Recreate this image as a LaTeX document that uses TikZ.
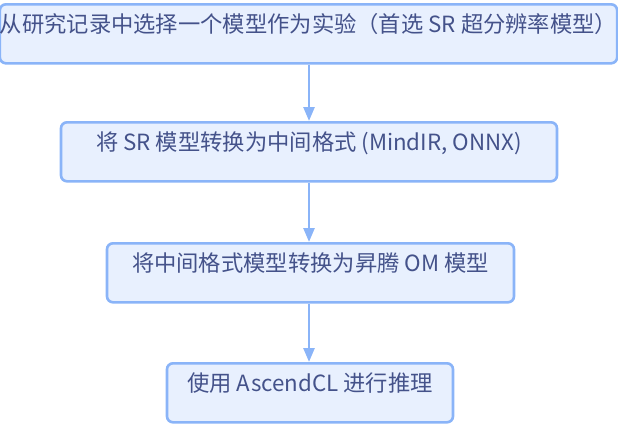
\documentclass[tikz,border=0pt]{standalone}
\usepackage{fontspec}
\setmainfont{Noto Sans CJK SC}
\usetikzlibrary{arrows.meta}
\definecolor{boxfill}{HTML}{E8F0FE}
\definecolor{boxline}{HTML}{8AB4F8}
\definecolor{boxtext}{HTML}{44528A}
\tikzset{
  stepbox/.style={draw=boxline, fill=boxfill, line width=2.6pt, rounded corners=6pt,
    text=boxtext, inner xsep=0pt, inner ysep=0pt, text height=28pt, text depth=31pt,
    font=\fontsize{22.3}{26}\selectfont, anchor=north},
  flow/.style={draw=boxline, line width=2.6pt, -{Triangle[length=14pt,width=11pt]}}
}
\begin{document}
\begin{tikzpicture}[x=1pt,y=-1pt]
\useasboundingbox (0,0) rectangle (618,423);
\node[stepbox, minimum width=613pt] (b1) at (308.5,3) {从研究记录中选择一个模型作为实验（首选 SR 超分辨率模型）};
\node[stepbox, minimum width=496pt] (b2) at (309,121) {将 SR 模型转换为中间格式 (MindIR, ONNX)};
\node[stepbox, minimum width=407pt] (b3) at (310.5,242) {将中间格式模型转换为昇腾 OM 模型};
\node[stepbox, minimum width=286pt] (b4) at (310,362) {使用 AscendCL 进行推理};
\draw[flow] (b1.south -| 309,0) -- (b2.north -| 309,0);
\draw[flow] (b2.south -| 309,0) -- (b3.north -| 309,0);
\draw[flow] (b3.south -| 309,0) -- (b4.north -| 309,0);
\end{tikzpicture}
\end{document}
